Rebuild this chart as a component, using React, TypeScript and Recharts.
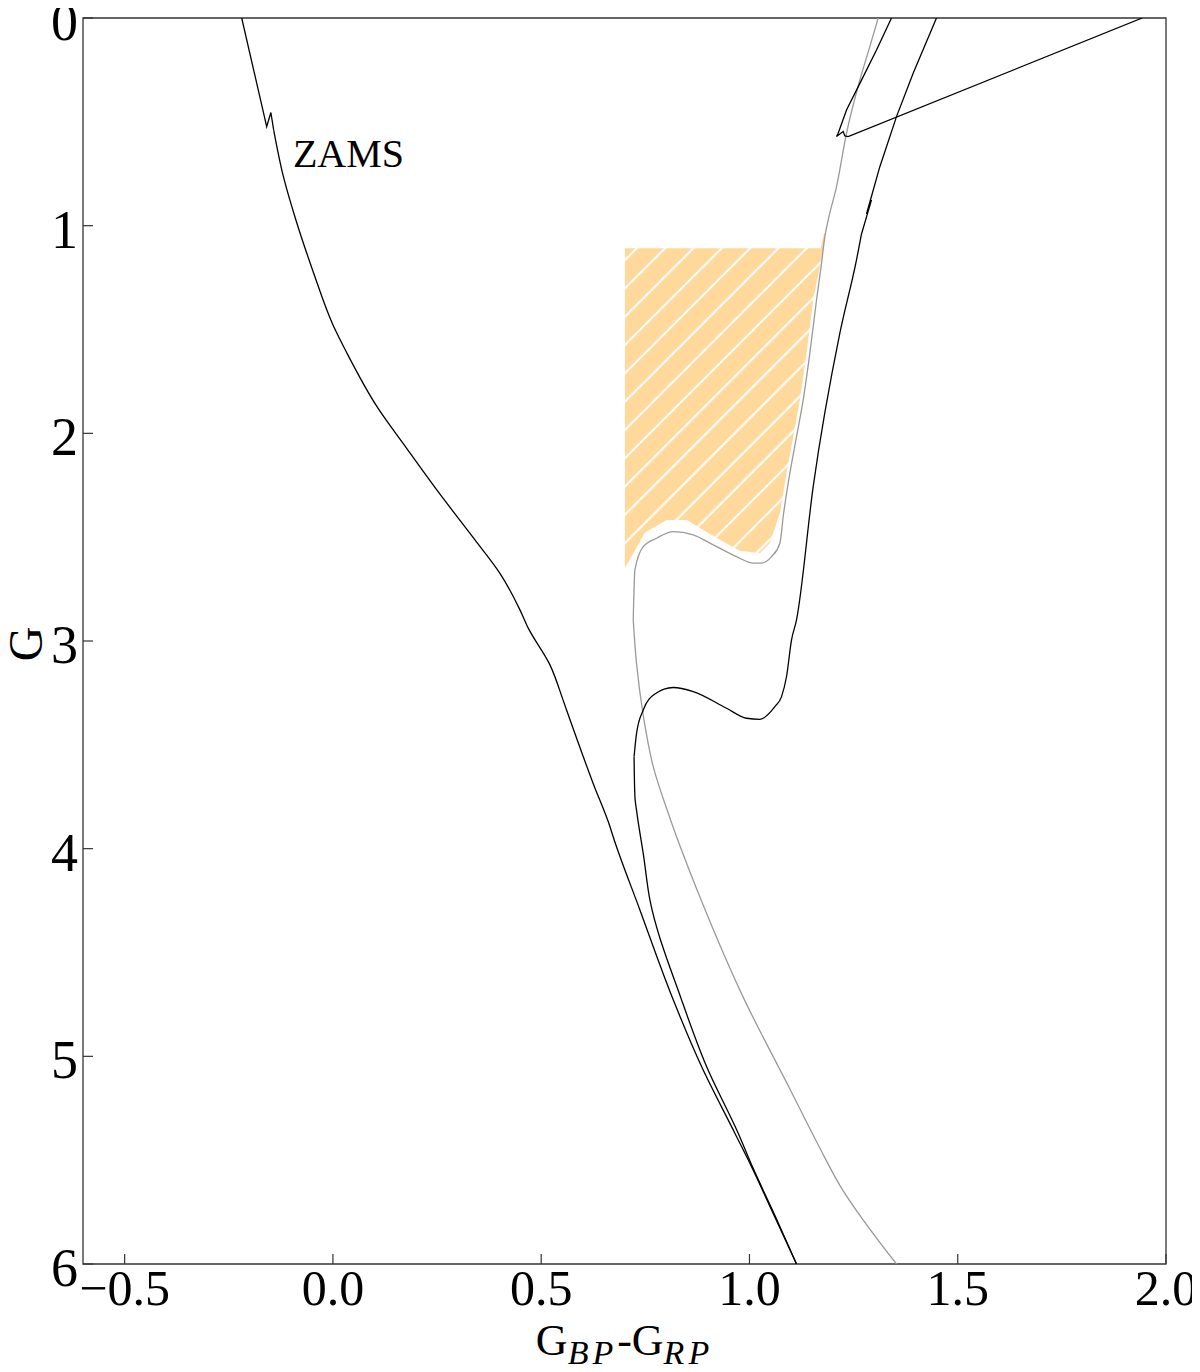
import { ScatterChart, Scatter, XAxis, YAxis, ReferenceArea } from 'recharts'

const colorTicks = [-0.5, 0, 0.5, 1, 1.5, 2]
const magTicks = [0, 1, 2, 3, 4, 5, 6]

// zero age main sequence: kinked top part, then smooth body
const zamsTopColor = [-0.219, -0.159, -0.149, -0.142]
const zamsTopMag = [0, 0.523, 0.455, 0.542]
const zamsColor = [-0.142, -0.119, -0.087, -0.047, 0.001, 0.033, 0.105, 0.177, 0.257, 0.341, 0.401, 0.449, 0.469, 0.521, 0.553, 0.569, 0.625, 0.665, 0.673, 0.737, 0.817, 0.885, 0.965, 1.005, 1.060, 1.113]
const zamsMag = [0.542, 0.763, 0.985, 1.224, 1.482, 1.611, 1.869, 2.072, 2.293, 2.513, 2.674, 2.850, 2.938, 3.115, 3.287, 3.378, 3.687, 3.893, 3.944, 4.295, 4.728, 5.049, 5.370, 5.531, 5.77, 6.0]

// isochrone: lower main sequence (bottom -> turn-off)
const isoLowColor = [1.113, 1.062, 1.007, 0.973, 0.897, 0.837, 0.761, 0.746, 0.730, 0.725, 0.723]
const isoLowMag = [6.0, 5.77, 5.531, 5.370, 5.049, 4.728, 4.247, 4.037, 3.831, 3.749, 3.557]
// isochrone: hook and subgiant branch
const isoHookColor = [0.723, 0.729, 0.745, 0.773, 0.817, 0.865, 0.945, 0.993, 1.025, 1.061, 1.077, 1.089, 1.101, 1.113, 1.153, 1.217, 1.257, 1.269]
const isoHookMag = [3.557, 3.444, 3.332, 3.255, 3.224, 3.244, 3.324, 3.372, 3.377, 3.316, 3.268, 3.171, 2.995, 2.898, 2.257, 1.518, 1.165, 1.040]
// isochrone: upper part with small kink
const isoTopColor = [1.269, 1.293, 1.281, 1.313, 1.353, 1.393, 1.449]
const isoTopMag = [1.040, 0.876, 0.944, 0.716, 0.475, 0.266, 0]

// isochrone, returning branch
const loopColor = [1.341, 1.305, 1.269, 1.233, 1.213, 1.209, 1.225, 1.229, 1.237, 1.943]
const loopMag = [0, 0.154, 0.299, 0.443, 0.555, 0.571, 0.547, 0.568, 0.571, 0]

// grey track
const greyLowColor = [1.353, 1.217, 1.167, 1.094, 0.988, 0.884, 0.809, 0.769, 0.745, 0.729, 0.721]
const greyLowMag = [6.0, 5.621, 5.434, 5.145, 4.728, 4.247, 3.852, 3.605, 3.358, 3.111, 2.898]
const greyHookColor = [0.721, 0.725, 0.745, 0.777, 0.817, 0.865, 0.913, 0.969, 1.009, 1.029, 1.053, 1.073, 1.082, 1.097, 1.113, 1.129, 1.145, 1.161, 1.172, 1.181, 1.189, 1.209, 1.233, 1.265, 1.289, 1.309]
const greyHookMag = [2.898, 2.658, 2.546, 2.505, 2.473, 2.489, 2.537, 2.594, 2.625, 2.625, 2.594, 2.529, 2.385, 2.192, 2.016, 1.839, 1.614, 1.358, 1.197, 1.053, 0.973, 0.812, 0.555, 0.299, 0.138, 0]

// hatched region
const regionColor = [0.701, 1.171, 1.179, 1.183, 1.169, 1.153, 1.137, 1.121, 1.105, 1.089, 1.073, 1.049, 1.025, 0.977, 0.929, 0.849, 0.801, 0.749, 0.701]
const regionMag = [1.109, 1.109, 1.037, 1.04, 1.197, 1.358, 1.614, 1.839, 2.016, 2.192, 2.385, 2.529, 2.577, 2.566, 2.513, 2.417, 2.417, 2.478, 2.650]

const zamsLabel = [{ c: -0.096, g: 0.717 }]

const toPoints = (c: number[], g: number[]) => c.map((v, i) => ({ c: v, g: g[i] }))

const FONT = '"Liberation Serif", "Times New Roman", serif'
const AXIS = '#333'
const BLACK = { stroke: '#000', strokeWidth: 1.3 }
const GREY = { stroke: '#9a9a9a', strokeWidth: 1.3 }

const fmtColor = (v: number) => (v < 0 ? '\u2212' + Math.abs(v).toFixed(1) : v.toFixed(1))

function XTick({ x, y, payload }: any) {
  return (
    <g>
      <line x1={x} x2={x} y1={y} y2={y - 10} stroke={AXIS} strokeWidth={1.2} />
      <text x={x} y={y + 41} textAnchor="middle" fontSize={50} fontFamily={FONT} fill="#000">
        {fmtColor(payload.value)}
      </text>
    </g>
  )
}

function YTick({ x, y, payload }: any) {
  return (
    <g>
      <line x1={x} x2={x + 10} y1={y} y2={y} stroke={AXIS} strokeWidth={1.2} />
      <text x={x - 5} y={y + 22} textAnchor="end" fontSize={54} fontFamily={FONT} fill="#000">
        {payload.value}
      </text>
    </g>
  )
}

const noDot = () => <g />

const hatchPolygon = (props: any) => {
  const pts = props.points || []
  if (!pts.length) return <g />
  const d = pts.map((p: any, i: number) => `${i ? 'L' : 'M'}${p.x},${p.y}`).join(' ') + ' Z'
  return <path d={d} fill="url(#hatch)" stroke="none" />
}

const zamsText = (props: any) => (
  <text x={props.cx} y={props.cy} fontSize={40} fontFamily={FONT} fill="#000">
    ZAMS
  </text>
)

function XLabel({ viewBox }: any) {
  const cx = viewBox.x + viewBox.width / 2
  const by = viewBox.y + 91
  return (
    <text x={cx} y={by} textAnchor="middle" fontFamily={FONT} fontSize={44} fill="#000">
      <tspan>G</tspan>
      <tspan dy={9} fontSize={34} fontStyle="italic" letterSpacing={4}>BP</tspan>
      <tspan dy={-9}>-G</tspan>
      <tspan dy={9} fontSize={34} fontStyle="italic" letterSpacing={4}>RP</tspan>
    </text>
  )
}

function YLabel({ viewBox }: any) {
  const cy = viewBox.y + viewBox.height / 2
  return (
    <text transform={`translate(42, ${cy + 3}) rotate(-90)`} textAnchor="middle" fontFamily={FONT} fontSize={48} fill="#000">
      G
    </text>
  )
}

function Track({ c, g, look, curve }: any) {
  return (
    <Scatter
      data={toPoints(c, g)}
      fill={look.stroke}
      shape={noDot}
      line={look}
      lineType="joint"
      lineJointType={curve}
      isAnimationActive={false}
    />
  )
}

export default function App() {
  const s = 28.3
  return (
    <div style={{ margin: '-8px', width: 1200, height: 1372, background: '#fff' }}>
      <ScatterChart width={1200} height={1372} margin={{ top: 18, right: 34, bottom: 0, left: 0 }}>
        <defs>
          <pattern id="hatch" patternUnits="userSpaceOnUse" width={s} height={s} x={7.7}>
            <rect width={s} height={s} fill="#fed99b" />
            <path
              d={`M0,${s} L${s},0 M${-s / 2},${s / 2} L${s / 2},${-s / 2} M${s / 2},${1.5 * s} L${1.5 * s},${s / 2}`}
              stroke="#fff"
              strokeWidth={2}
            />
          </pattern>
        </defs>
        <XAxis
          type="number"
          dataKey="c"
          domain={[-0.6, 2.0]}
          ticks={colorTicks}
          allowDataOverflow
          height={108}
          axisLine={false}
          tickLine={false}
          tickSize={0}
          tickMargin={0}
          tick={<XTick />}
          interval={0}
          label={{ content: <XLabel /> }}
        />
        <YAxis
          type="number"
          dataKey="g"
          domain={[0, 6]}
          ticks={magTicks}
          reversed
          allowDataOverflow
          width={83}
          axisLine={false}
          tickLine={false}
          tickSize={0}
          tickMargin={0}
          tick={<YTick />}
          interval={0}
          label={{ content: <YLabel /> }}
        />
        <Scatter data={toPoints(regionColor, regionMag)} shape={noDot} line={hatchPolygon} lineType="joint" isAnimationActive={false} />
        {Track({ c: greyLowColor, g: greyLowMag, look: GREY, curve: 'monotoneY' })}
        {Track({ c: greyHookColor, g: greyHookMag, look: GREY, curve: 'monotoneX' })}
        {Track({ c: zamsTopColor, g: zamsTopMag, look: BLACK, curve: 'linear' })}
        {Track({ c: zamsColor, g: zamsMag, look: BLACK, curve: 'monotoneY' })}
        {Track({ c: isoLowColor, g: isoLowMag, look: BLACK, curve: 'monotoneY' })}
        {Track({ c: isoHookColor, g: isoHookMag, look: BLACK, curve: 'monotoneX' })}
        {Track({ c: isoTopColor, g: isoTopMag, look: BLACK, curve: 'linear' })}
        {Track({ c: loopColor, g: loopMag, look: BLACK, curve: 'linear' })}
        <Scatter data={zamsLabel} shape={zamsText} isAnimationActive={false} />
        <ReferenceArea x1={-0.6} x2={2.0} y1={0} y2={6} fill="none" stroke={AXIS} strokeWidth={1.3} fillOpacity={0} />
      </ScatterChart>
    </div>
  )
}
